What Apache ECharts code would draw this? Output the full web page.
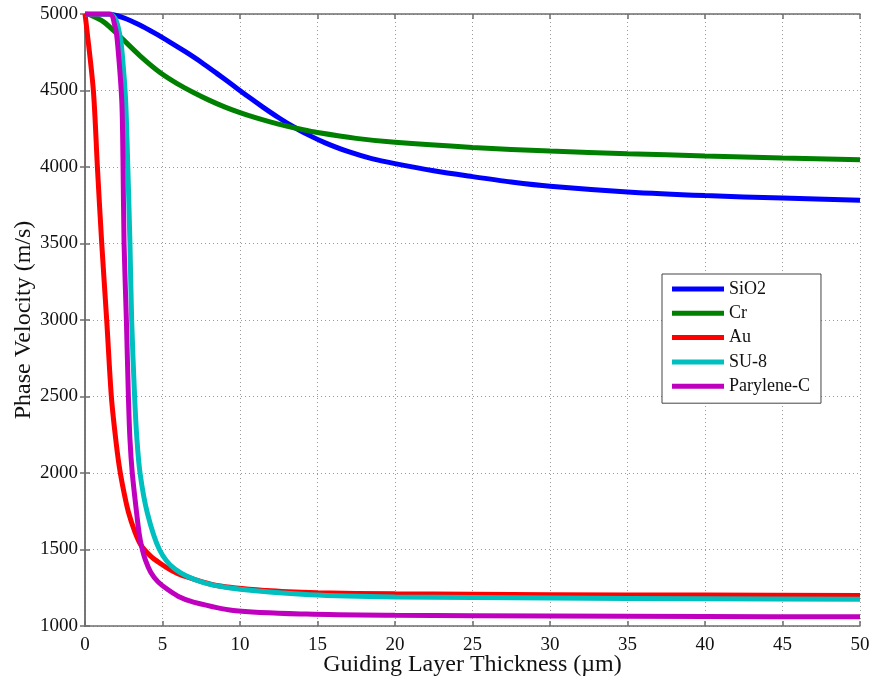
<!DOCTYPE html>
<html>
<head>
<meta charset="utf-8">
<script src="https://cdn.jsdelivr.net/npm/echarts@6/dist/echarts.min.js"></script>
<style>
  html, body { margin: 0; padding: 0; background: #fff; }
  #chart { width: 871px; height: 683px; }
</style>
</head>
<body>
<div id="chart"></div>
<script>
// Phase velocity vs. guiding layer thickness, [thickness µm, velocity m/s]
const seriesNames = ['SiO2', 'Cr', 'Au', 'SU-8', 'Parylene-C'];

const sio2 = [[0,5000],[1.5,5000],[2.5,4975],[3.5,4930],[4.5,4875],[5.5,4815],[6.5,4752],[7.5,4685],[8.5,4612],[9.5,4537],[10.5,4462],[11.5,4390],[12.5,4322],[13.5,4260],[14.5,4205],[15.5,4158],[17,4100],[18.5,4055],[20,4022],[22.5,3975],[25,3937],[27.5,3902],[30,3874],[35,3837],[40,3813],[45,3797],[50,3782]];

const cr = [[0,5000],[0.3,4995],[1.18,4950],[2.26,4852],[3.55,4727],[4.84,4618],[6,4542],[7,4487],[8,4437],[9,4393],[10,4355],[11,4322],[12,4293],[13,4268],[14,4245],[15,4225],[17.5,4187],[20,4161],[25,4128],[30,4104],[35,4087],[40,4072],[45,4059],[50,4048]];

const au = [[0,5000],[0.1,4917],[0.54,4500],[0.8,4000],[1.08,3500],[1.4,3000],[1.7,2500],[1.95,2250],[2.2,2050],[2.5,1880],[2.8,1745],[3.2,1620],[3.6,1530],[4.2,1460],[4.84,1410],[5.5,1368],[6.3,1330],[8.5,1265],[11.7,1232],[15,1218],[20,1210],[30,1205],[40,1202],[50,1200]];

const su8 = [[0,5000],[1.6,5000],[2.0,4960],[2.3,4830],[2.47,4656],[2.62,4438],[2.73,4113],[2.9,3500],[3.01,3000],[3.2,2500],[3.35,2221],[3.55,2000],[4.02,1739],[4.8,1500],[5.8,1372],[7.6,1285],[10,1240],[14.5,1205],[20,1190],[30,1183],[40,1178],[50,1175]];

const parylene = [[0,5000],[1.6,5000],[1.94,4917],[2.08,4830],[2.37,4438],[2.45,4050],[2.52,3500],[2.67,3000],[2.8,2500],[2.9,2221],[3.05,2000],[3.33,1739],[3.5,1600],[3.65,1520],[3.9,1430],[4.24,1352],[4.7,1290],[5.27,1243],[6,1195],[7,1156],[9.57,1102],[14.3,1078],[20,1070],[30,1065],[40,1062],[50,1060]];

const seriesData = [sio2, cr, au, su8, parylene];
const seriesColors = ['#0000ff', '#008000', '#ff0000', '#00bfbf', '#bf00bf'];

const xTicks = { min: 0, max: 50, interval: 5 };
const yTicks = { min: 1000, max: 5000, interval: 500 };

const serif = '"Liberation Serif", "Times New Roman", serif';
const frameColor = '#6e6e6e';

const chart = echarts.init(document.getElementById('chart'), null, { renderer: 'canvas' });

const hiddenAxisBits = {
  axisLabel: { show: false },
  splitLine: { show: false },
  axisLine: { show: true, lineStyle: { color: frameColor, width: 1.5 } },
  axisTick: { show: true, inside: true, length: 5, lineStyle: { color: frameColor, width: 1.5 } }
};

chart.setOption({
  backgroundColor: '#ffffff',
  animation: false,
  grid: { left: 85, right: 11, top: 14, bottom: 57, containLabel: false, outerBoundsMode: 'none' },
  legend: {
    data: seriesNames,
    orient: 'vertical',
    left: 662,
    top: 274,
    padding: [6, 11, 8, 10],
    itemWidth: 52,
    itemHeight: 5,
    itemGap: 6.3,
    icon: 'rect',
    backgroundColor: '#ffffff',
    borderColor: '#444',
    borderWidth: 1,
    borderRadius: 0,
    textStyle: { fontFamily: serif, fontSize: 18, color: '#111', lineHeight: 18 }
  },
  xAxis: [
    {
      type: 'value',
      min: xTicks.min, max: xTicks.max, interval: xTicks.interval,
      name: 'Guiding Layer Thickness (\u00b5m)',
      nameLocation: 'middle',
      nameGap: 27,
      nameMoveOverlap: false,
      nameTextStyle: { fontFamily: serif, fontSize: 24, color: '#111' },
      axisLine: { show: true, lineStyle: { color: frameColor, width: 1.5 } },
      axisTick: { show: true, inside: true, length: 5, lineStyle: { color: frameColor, width: 1.5 } },
      axisLabel: { fontFamily: serif, fontSize: 19, color: '#111', margin: 10, formatter: v => String(v) },
      splitLine: { show: true, lineStyle: { color: '#9a9a9a', type: [1, 3], width: 1 } }
    },
    Object.assign({
      type: 'value', position: 'top',
      min: xTicks.min, max: xTicks.max, interval: xTicks.interval
    }, hiddenAxisBits)
  ],
  yAxis: [
    {
      type: 'value',
      min: yTicks.min, max: yTicks.max, interval: yTicks.interval,
      name: 'Phase Velocity (m/s)',
      nameLocation: 'middle',
      nameGap: 49,
      nameMoveOverlap: false,
      nameTextStyle: { fontFamily: serif, fontSize: 24, color: '#111' },
      axisLine: { show: true, lineStyle: { color: frameColor, width: 1.5 } },
      axisTick: { show: true, inside: true, length: 5, lineStyle: { color: frameColor, width: 1.5 } },
      axisLabel: { fontFamily: serif, fontSize: 19, color: '#111', margin: 7, formatter: v => String(v) },
      splitLine: { show: true, lineStyle: { color: '#9a9a9a', type: [1, 3], width: 1 } }
    },
    Object.assign({
      type: 'value', position: 'right',
      min: yTicks.min, max: yTicks.max, interval: yTicks.interval
    }, hiddenAxisBits)
  ],
  series: seriesNames.map((name, i) => ({
    name: name,
    type: 'line',
    data: seriesData[i],
    xAxisIndex: 0,
    yAxisIndex: 0,
    showSymbol: false,
    symbol: 'none',
    smooth: 0.3,
    clip: true,
    color: seriesColors[i],
    lineStyle: { color: seriesColors[i], width: 5 },
    z: 2 + i
  }))
});
</script>
</body>
</html>
